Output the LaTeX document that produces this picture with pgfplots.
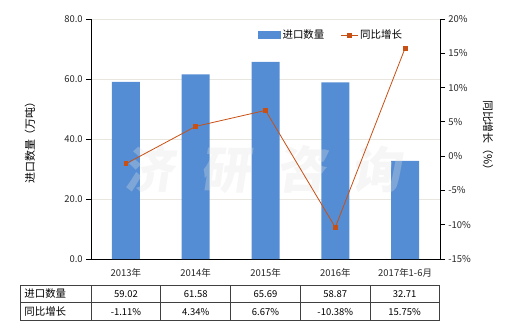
\documentclass[border=0pt]{standalone}
\usepackage{pgfplots}
\pgfplotsset{compat=1.18}
\usepackage{pgfplotstable}
\usepackage{fontspec}
\setmainfont{Noto Sans CJK SC}
\definecolor{barblue}{RGB}{84,141,212}
\definecolor{lineorange}{RGB}{200,80,20}
\definecolor{gridc}{RGB}{232,230,222}
\definecolor{tabline}{RGB}{64,64,64}
\definecolor{wm}{RGB}{225,225,225}

\pgfplotstableread{
x val yoy
0 59.02 -1.11
1 61.58 4.34
2 65.69 6.67
3 58.87 -10.38
4 32.71 15.75
}\data

\begin{document}
\fontsize{9.5}{11}\selectfont
\begin{tikzpicture}[x=1bp,y=1bp]
\path[use as bounding box] (0,0) rectangle (520,330);
\begin{axis}[
  at={(91bp,71bp)}, anchor=south west,
  width=349bp, height=240bp, scale only axis,
  xmin=-0.5, xmax=4.5, ymin=0, ymax=80,
  axis y line*=left, axis x line*=bottom,
  axis line style={black, line width=0.8bp},
  xtick={0,...,4},
  xticklabels={2013年,2014年,2015年,2016年,2017年1-6月},
  x tick style={draw=none},
  ytick={0,20,...,80},
  ymajorgrids, grid style={gridc, line width=0.8bp},
  tick align=outside, major tick length=5bp,
  y tick style={black, line width=0.8bp},
  yticklabel style={/pgf/number format/.cd,fixed,fixed zerofill,precision=1,assume math mode=true},
  ticklabel style={font=\fontsize{9.5}{11}\selectfont, text=black!85},
  xticklabel style={yshift=-1bp},
  clip=false,
]
\addplot[ybar, bar width=28bp, fill=barblue, draw=none] table[x=x,y=val]{\data};
\end{axis}
\node[text=wm, opacity=0.3, font=\fontsize{50}{50}\selectfont\bfseries, xslant=0.15] at (266,160) {济\hspace{26bp}研\hspace{26bp}咨\hspace{26bp}询};
\begin{axis}[
  at={(91bp,71bp)}, anchor=south west,
  width=349bp, height=240bp, scale only axis,
  xmin=-0.5, xmax=4.5, ymin=-15, ymax=20,
  axis y line*=right, axis x line=none,
  axis line style={black, line width=0.8bp},
  ytick={-15,-10,...,20},
  yticklabel={\pgfmathprintnumber{\tick}\%},
  yticklabel style={/pgf/number format/assume math mode=true},
  tick align=outside, major tick length=5bp,
  y tick style={black, line width=0.8bp},
  ticklabel style={font=\fontsize{9.5}{11}\selectfont, text=black!85},
  legend style={at={(0.688,0.933)}, anchor=center, draw=none, fill=none,
    font=\fontsize{10.5}{12}\selectfont, legend columns=2,
    /tikz/every even column/.append style={column sep=14bp}},
  clip=false,
]
\addlegendimage{legend image code/.code={\fill[barblue] (0bp,-3.5bp) rectangle (22bp,3.5bp);}}
\addlegendentry{进口数量}
\addplot[lineorange, line width=0.8bp, mark=square*, mark size=1.9bp, mark options={fill=lineorange}] table[x=x,y=yoy]{\data};
\addlegendentry{同比增长}
\end{axis}
% axis titles
\node[rotate=90, font=\fontsize{11}{12}\selectfont] at (30,190) {进口数量（万吨）};
\node[rotate=-90, font=\fontsize{11}{12}\selectfont] at (488,192) {同比增长（\%）};
% data table
\begin{scope}[draw=tabline, line width=0.8bp]
\draw (20,45) rectangle (439,9.5);
\draw (20,27.3) -- (439,27.3);
\foreach \xx in {91,160.8,230.6,300.4,370.2} \draw (\xx,45) -- (\xx,9.5);
\end{scope}
\node[anchor=west, font=\fontsize{10.5}{12}\selectfont] at (21,36.2) {进口数量};
\node[anchor=west, font=\fontsize{10.5}{12}\selectfont] at (21,18.4) {同比增长};
\foreach \xx/\v in {126/59.02,195.7/61.58,265.5/65.69,335.3/58.87,404.6/32.71}
  \node at (\xx,35.5) {\v};
\foreach \xx/\v in {126/-1.11\%,195.7/4.34\%,265.5/6.67\%,335.3/-10.38\%,404.6/15.75\%}
  \node at (\xx,17.8) {\v};
\end{tikzpicture}
\end{document}
